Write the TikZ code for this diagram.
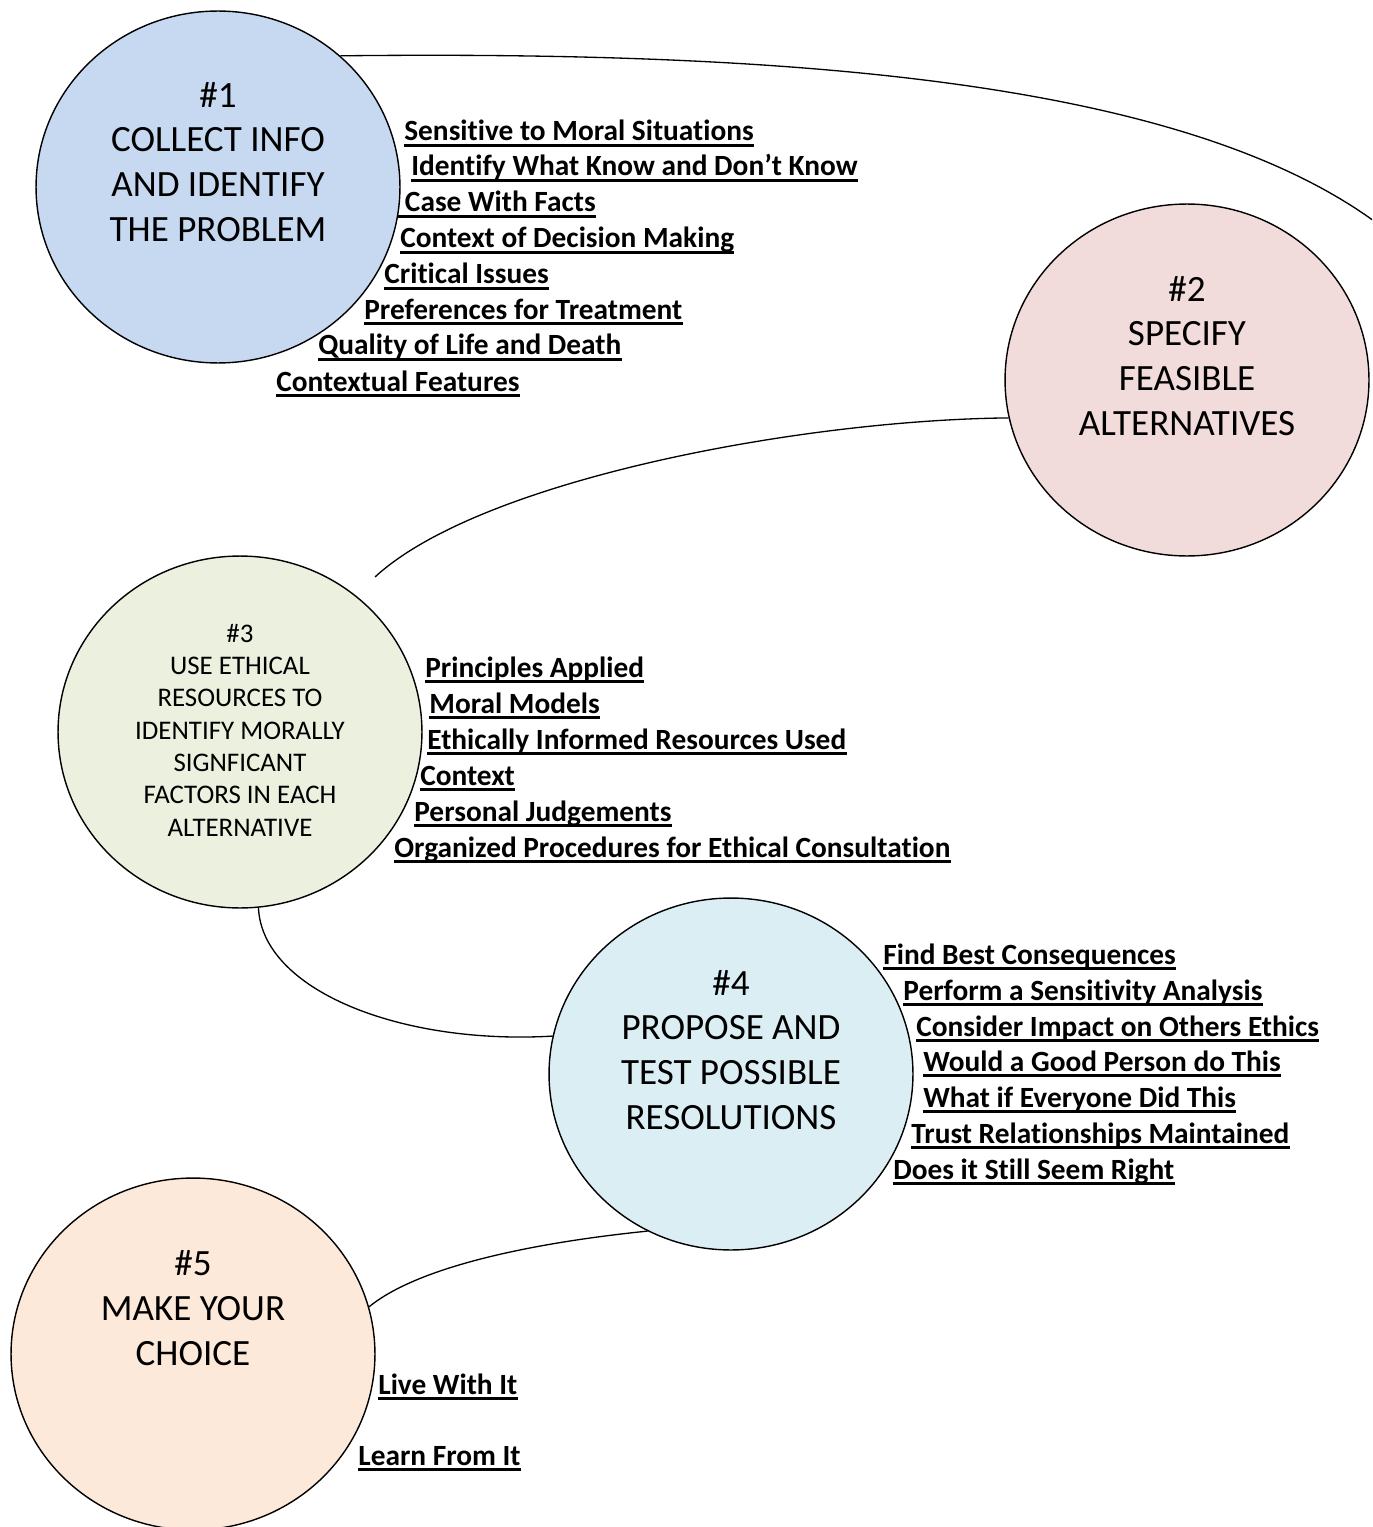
\documentclass[tikz,border=0pt]{standalone}
\usepackage{fontspec}
\setmainfont[Ligatures=NoCommon]{Carlito}
\usepackage{tikz}
\usetikzlibrary{shapes.geometric}
\definecolor{stepblue}{RGB}{198,217,241}
\definecolor{steppink}{RGB}{242,220,219}
\definecolor{stepgreen}{RGB}{235,241,222}
\definecolor{stepcyan}{RGB}{219,238,244}
\definecolor{steppeach}{RGB}{253,233,217}

\tikzset{
  stepcircle/.style={ellipse, draw, line width=0.8pt, minimum width=7.28cm, minimum height=7.04cm, inner sep=0pt},
  steptext/.style={align=center, inner sep=0pt, font=\fontsize{21.1}{25.5}\selectfont},
  smalltext/.style={align=center, inner sep=0pt, font=\fontsize{15.3}{18.4}\selectfont},
  listitem/.style={anchor=base west, inner sep=0pt, font=\bfseries\fontsize{16.7}{20}\selectfont},
  underline/.style={line width=1.3pt},
  link/.style={line width=0.75pt}
}

\begin{document}
\begin{tikzpicture}[x=0.02cm, y=-0.02cm]
    \useasboundingbox (0,0) rectangle (1372,1527);
    \clip (0,0) rectangle (1372,1527);

    \node[stepcircle, fill=stepblue] (c1) at (218,187) {};
    \node[stepcircle, fill=steppink] (c2) at (1187,380) {};
    \node[stepcircle, fill=stepgreen] (c3) at (240,732) {};
    \node[stepcircle, fill=stepcyan] (c4) at (731,1074) {};
    \node[stepcircle, fill=steppeach] (c5) at (193,1354) {};

    \node[steptext] (t1) at (218,162) {\#1\\COLLECT INFO\\AND IDENTIFY\\THE PROBLEM};
    \node[steptext] (t2) at (1187,356) {\#2\\SPECIFY\\FEASIBLE\\ALTERNATIVES};
    \node[smalltext] (t3) at (240,730) {\#3\\USE ETHICAL\\RESOURCES TO\\IDENTIFY MORALLY\\SIGNFICANT\\FACTORS IN EACH\\ALTERNATIVE};
    \node[steptext] (t4) at (731,1050) {\#4\\PROPOSE AND\\TEST POSSIBLE\\RESOLUTIONS};
    \node[steptext] (t5) at (193,1308) {\#5\\MAKE YOUR\\CHOICE};

    % step 1
    \node[listitem] (a1) at (404,141) {Sensitive to Moral Situations};
    \node[listitem] (a2) at (411,176) {Identify What Know and Don’t Know};
    \node[listitem] (a3) at (398,212) {\ Case With Facts};
    \node[listitem] (a4) at (400,248) {Context of Decision Making};
    \node[listitem] (a5) at (384,284) {Critical Issues};
    \node[listitem] (a6) at (364,319) {Preferences for Treatment};
    \node[listitem] (a7) at (318,355) {Quality of Life and Death};
    \node[listitem] (a8) at (276,391) {Contextual Features};

    % step 3
    \node[listitem] (b1) at (425,677) {Principles Applied};
    \node[listitem] (b2) at (429,713) {Moral Models};
    \node[listitem] (b3) at (427,749) {Ethically Informed Resources Used};
    \node[listitem] (b4) at (420,785) {Context};
    \node[listitem] (b5) at (414,821) {Personal Judgements};
    \node[listitem] (b6) at (394,857) {Organized Procedures for Ethical Consultation};

    % step 4
    \node[listitem] (d1) at (883,964) {Find Best Consequences};
    \node[listitem] (d2) at (903,1000) {Perform a Sensitivity Analysis};
    \node[listitem] (d3) at (916,1036) {Consider Impact on Others Ethics};
    \node[listitem] (d4) at (923,1071) {Would a Good Person do This};
    \node[listitem] (d5) at (923,1107) {What if Everyone Did This};
    \node[listitem] (d6) at (911,1143) {Trust Relationships Maintained};
    \node[listitem] (d7) at (893,1179) {Does it Still Seem Right};

    % step 5
    \node[listitem] (f1) at (378,1394) {Live With It};
    \node[listitem] (f2) at (358,1465) {Learn From It};

    \foreach \n in {a1,a2,a3,a4,a5,a6,a7,a8,b1,b2,b3,b4,b5,b6,d1,d2,d3,d4,d5,d6,d7,f1,f2}
        \draw[underline] ([yshift=-2.6pt]\n.base west) -- ([yshift=-2.6pt]\n.base east);

    \coordinate (off1) at (1420,260);
    \coordinate (e3) at (375,577);
    \draw[link] (c1.47) .. controls (850,50) and (1250,90) .. (off1);
    \draw[link] (c2.192) .. controls (800,420) and (480,480) .. (e3);
    \draw[link] (c3.276) .. controls (262,990) and (400,1045) .. (c4.168);
    \draw[link] (c4.242) .. controls (540,1242) and (420,1265) .. (c5.15);
\end{tikzpicture}
\end{document}
